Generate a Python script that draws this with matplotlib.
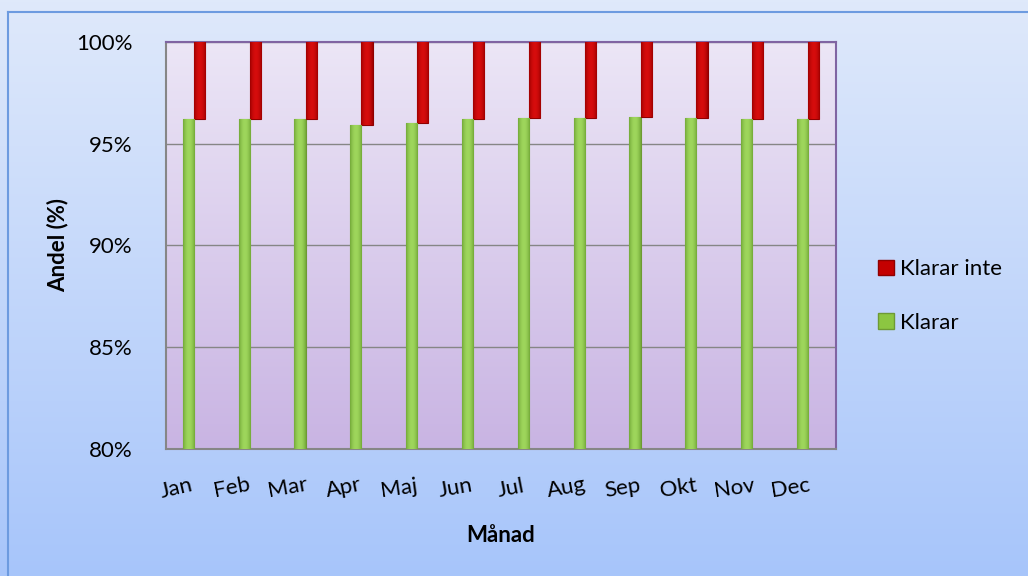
import numpy as np
import matplotlib
matplotlib.use("Agg")
import matplotlib.pyplot as plt
from matplotlib.patches import Patch

plt.rcParams['font.family'] = ['Lato', 'DejaVu Sans']

# data (percent)
manader = ['Jan', 'Feb', 'Mar', 'Apr', 'Maj', 'Jun', 'Jul', 'Aug', 'Sep', 'Okt', 'Nov', 'Dec']
klarar = [96.2, 96.2, 96.2, 95.9, 96.0, 96.2, 96.25, 96.25, 96.3, 96.25, 96.2, 96.2]
klarar_inte = [3.8, 3.8, 3.8, 4.1, 4.0, 3.8, 3.75, 3.75, 3.7, 3.75, 3.8, 3.8]
y_ticks = [80, 85, 90, 95, 100]

# the tilted "wave" of the month labels
label_rot = [13, 11, 10, 11, 8, 10, 11, 10, 9, 9, 8, 9]

fig = plt.figure(figsize=(10.28, 5.76), dpi=100)

# chart area background (blue gradient)
bg = fig.add_axes([0, 0, 1, 1], zorder=-10)
grad = np.linspace(0, 1, 256).reshape(-1, 1)
top_c = np.array([0.875, 0.914, 0.984])
bot_c = np.array([0.655, 0.773, 0.984])
img = top_c + (bot_c - top_c) * grad[:, :, None]
bg.imshow(img, extent=[0, 1, 0, 1], aspect='auto', origin='upper')
bg.plot([8 / 1028, 8 / 1028], [0, 1 - 12 / 576], color='#6d9be0', lw=1.5)
bg.plot([8 / 1028, 1], [1 - 12 / 576, 1 - 12 / 576], color='#6d9be0', lw=1.5)
bg.set_xlim(0, 1)
bg.set_ylim(0, 1)
bg.axis('off')

ax = fig.add_axes([166 / 1028, 1 - 449 / 576, 670 / 1028, 407 / 576])

# plot area background (lavender gradient)
p_top = np.array([0.925, 0.902, 0.965])
p_bot = np.array([0.788, 0.706, 0.890])
pimg = p_top + (p_bot - p_top) * grad[:, :, None]
ax.imshow(pimg, extent=[0, 1, 0, 1], aspect='auto', origin='upper',
          transform=ax.transAxes, zorder=0)

x = np.arange(len(manader))
gb = ax.bar(x - 0.1, np.array(klarar) - 80, width=0.2, bottom=80, color='#8cc641',
            edgecolor='#6e9a34', linewidth=0.8, zorder=3)
rb = ax.bar(x + 0.1, klarar_inte, width=0.2, bottom=klarar, color='#c40000',
            edgecolor='#8f0000', linewidth=0.8, zorder=3)

# a little cylinder-like shading across each bar
shade = np.abs(np.linspace(-1, 1, 64))[None, :]
for bars, light, dark in [(gb, (0.62, 0.84, 0.36), (0.45, 0.66, 0.22)),
                          (rb, (0.84, 0.05, 0.05), (0.62, 0.0, 0.0))]:
    light, dark = np.array(light), np.array(dark)
    cimg = light + (dark - light) * shade[:, :, None] ** 2
    for b in bars:
        x0, y0 = b.get_x(), b.get_y()
        im = ax.imshow(cimg, extent=[x0, x0 + b.get_width(), y0, y0 + b.get_height()],
                       aspect='auto', zorder=3.5)
        im.set_clip_path(b)

ax.set_xlim(-0.5, len(manader) - 0.5)
ax.set_ylim(80, 100)
ax.set_yticks(y_ticks)
ax.set_yticklabels([f'{v}%' for v in y_ticks], fontsize=16)
ax.tick_params(axis='y', length=0, pad=24)
ax.set_xticks([])
ax.grid(axis='y', color='#868686', lw=1, zorder=1)
ax.set_axisbelow(True)

for s in ['left', 'bottom']:
    ax.spines[s].set_color('#868686')
    ax.spines[s].set_linewidth(1.5)
for s in ['top', 'right']:
    ax.spines[s].set_color('#8064a2')
    ax.spines[s].set_linewidth(1.5)

for i, (m, r) in enumerate(zip(manader, label_rot)):
    ax.text(i - 0.32, -0.096, m, transform=ax.get_xaxis_transform(),
            ha='center', va='center', rotation=r, fontsize=16)

ax.set_ylabel('Andel (%)', fontsize=16, fontweight='bold')
ax.yaxis.set_label_coords(-0.146, 0.5)
fig.text(501 / 1028, 1 - 535 / 576, 'Månad', ha='center', va='center',
         fontsize=16, fontweight='bold')

handles = [Patch(facecolor='#c40000', edgecolor='#8f0000', label='Klarar inte'),
           Patch(facecolor='#8cc641', edgecolor='#6e9a34', label='Klarar')]
fig.legend(handles=handles, loc='center left', bbox_to_anchor=(867 / 1028, 1 - 296 / 576),
           frameon=False, fontsize=16, handlelength=0.7, handleheight=0.7,
           handletextpad=0.3, labelspacing=1.5, borderpad=0)

plt.savefig('out.png', dpi=100)
